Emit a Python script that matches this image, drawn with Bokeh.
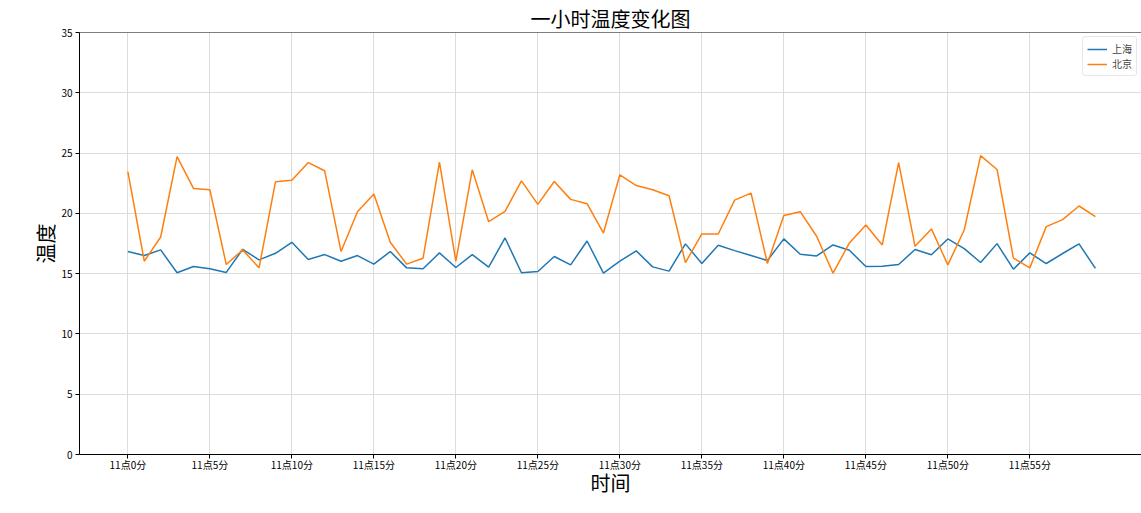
from bokeh.plotting import figure
from bokeh.models import Range1d, FixedTicker, Span, Legend, LegendItem, ColumnDataSource
from bokeh.embed import file_html
from bokeh.resources import INLINE

minutes = list(range(60))
shanghai = [16.83, 16.50, 16.97, 15.07, 15.59, 15.40, 15.10, 17.02, 16.14, 16.69,
            17.60, 16.17, 16.58, 16.03, 16.50, 15.79, 16.83, 15.48, 15.40, 16.72,
            15.51, 16.58, 15.54, 17.96, 15.07, 15.18, 16.42, 15.73, 17.71, 15.04,
            16.03, 16.89, 15.56, 15.21, 17.47, 15.84, 17.36, 16.91, 16.50, 16.09,
            17.88, 16.61, 16.47, 17.38, 16.94, 15.59, 15.62, 15.76, 17.00, 16.56,
            17.88, 17.08, 15.92, 17.49, 15.37, 16.72, 15.84, 16.67, 17.47, 15.43]
beijing = [23.47, 16.03, 18.04, 24.71, 22.07, 21.96, 15.76, 16.97, 15.48, 22.62,
           22.75, 24.21, 23.53, 16.83, 20.14, 21.60, 17.60, 15.79, 16.28, 24.24,
           16.03, 23.61, 19.31, 20.17, 22.70, 20.74, 22.64, 21.16, 20.80, 18.37,
           23.20, 22.31, 21.96, 21.46, 15.92, 18.29, 18.29, 21.10, 21.68, 15.84,
           19.82, 20.14, 18.10, 15.04, 17.55, 19.04, 17.38, 24.21, 17.27, 18.71,
           15.73, 18.62, 24.79, 23.64, 16.28, 15.48, 18.90, 19.48, 20.61, 19.72]
tick_positions = list(range(0, 60, 5))
tick_labels = ["11点{}分".format(m) for m in tick_positions]
y_ticks = [0, 5, 10, 15, 20, 25, 30, 35]

title_text = "一小时温度变化图"
x_label = "时间"
y_label = "温度"
series_names = ["上海", "北京"]
colors = ["#1f77b4", "#ff7f0e"]

CJK = "Noto Sans CJK SC"

p = figure(width=1141, height=513, output_backend="svg", toolbar_location=None,
           x_range=Range1d(-2.95, 61.81), y_range=Range1d(0, 35),
           min_border_left=79, min_border_right=0, min_border_top=32, min_border_bottom=59,
           title=title_text, background_fill_color="white", border_fill_color="white")

p.title.align = "center"
p.title.text_font = CJK
p.title.text_font_size = "20px"
p.title.text_font_style = "normal"
p.title.text_color = "#000000"
p.title.standoff = 0
p.title.offset = 0

p.outline_line_color = None

src = ColumnDataSource(dict(x=minutes, sh=shanghai, bj=beijing))
r1 = p.line("x", "sh", source=src, line_color=colors[0], line_width=1.5)
r2 = p.line("x", "bj", source=src, line_color=colors[1], line_width=1.5)

# top spine
p.add_layout(Span(location=35, dimension="width", line_color="#000000", line_width=1))

p.xaxis.ticker = FixedTicker(ticks=tick_positions)
p.xaxis.major_label_overrides = {t: l for t, l in zip(tick_positions, tick_labels)}
p.yaxis.ticker = FixedTicker(ticks=y_ticks)

for ax in (p.xaxis, p.yaxis):
    ax.minor_tick_line_color = None
    ax.major_tick_in = 0
    ax.major_tick_out = 4
    ax.axis_line_color = "#000000"
    ax.major_tick_line_color = "#000000"
    ax.major_label_text_font = CJK
    ax.major_label_text_font_size = "10px"
    ax.major_label_text_color = "#000000"
    ax.axis_label_text_font = CJK
    ax.axis_label_text_font_size = "20px"
    ax.axis_label_text_font_style = "normal"
    ax.axis_label_text_color = "#000000"

p.xaxis.axis_label = x_label
p.yaxis.axis_label = y_label
p.xaxis.major_label_standoff = -2
p.xaxis.axis_label_standoff = -7
p.yaxis.major_label_standoff = 3
p.yaxis.axis_label_standoff = -2

p.xgrid.grid_line_color = "#dcdcdc"
p.ygrid.grid_line_color = "#dcdcdc"
p.xgrid.ticker = FixedTicker(ticks=tick_positions)
p.ygrid.ticker = FixedTicker(ticks=y_ticks)

legend = Legend(items=[LegendItem(label=series_names[0], renderers=[r1]),
                       LegendItem(label=series_names[1], renderers=[r2])],
                location="top_right")
legend.label_text_font = CJK
legend.label_text_font_size = "10px"
legend.border_line_color = "#d0d0d0"
legend.border_radius = 3
legend.margin = 4
legend.padding = 4
legend.spacing = 0
legend.glyph_width = 20
legend.glyph_height = 12
legend.label_height = 12
legend.label_standoff = 5
p.add_layout(legend)

open("out.html", "w").write(file_html(p, INLINE))
